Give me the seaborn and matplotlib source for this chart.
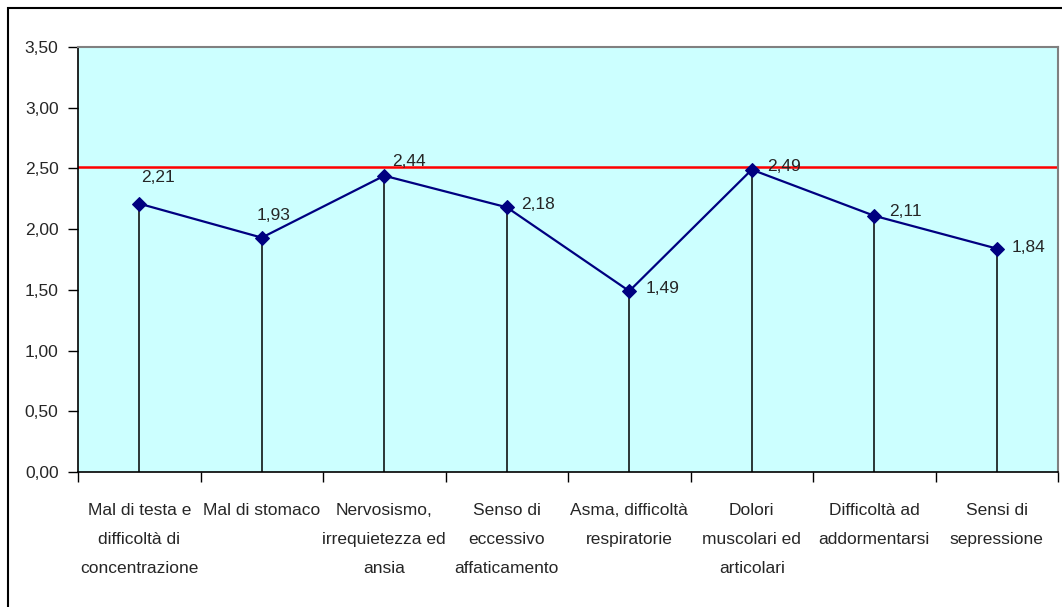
import numpy as np
import pandas as pd
import matplotlib
matplotlib.use("Agg")
import matplotlib.pyplot as plt
import seaborn as sns
from matplotlib.patches import Rectangle

# dati
categorie = [
    "Mal di testa e\ndifficoltà di\nconcentrazione",
    "Mal di stomaco",
    "Nervosismo,\nirrequietezza ed\nansia",
    "Senso di\neccessivo\naffaticamento",
    "Asma, difficoltà\nrespiratorie",
    "Dolori\nmuscolari ed\narticolari",
    "Difficoltà ad\naddormentarsi",
    "Sensi di\nsepressione",
]
valori = [2.21, 1.93, 2.44, 2.18, 1.49, 2.49, 2.11, 1.84]
soglia = 2.51
y_ticks = [0.0, 0.5, 1.0, 1.5, 2.0, 2.5, 3.0, 3.5]

# posizione delle etichette (pixel rispetto al punto)
offset_etichette = [(19, 26), (12, 22), (25, 14), (31, 3), (33, 3), (32, 3), (31, 4), (32, 1)]

sns.set_theme(style="white")
plt.rcParams['font.family'] = ['Liberation Sans', 'DejaVu Sans']

df = pd.DataFrame({"categoria": categorie, "valore": valori})

fig = plt.figure(figsize=(10.62, 6.07), dpi=100)
ax = fig.add_axes([78 / 1062, 1 - 472 / 607, 980 / 1062, 425 / 607])
ax.set_facecolor("#CCFFFF")

# linee verticali fino all'asse
ax.vlines(np.arange(len(valori)), 0, valori, color="black", linewidth=1.1, zorder=2)

sns.lineplot(data=df, x="categoria", y="valore", sort=False, ax=ax,
             color="#000080", linewidth=1.6, marker="D", markersize=7,
             markeredgecolor="#000080", zorder=3)

ax.axhline(soglia, color="red", linewidth=1.8, zorder=2.5)

for i, v in enumerate(valori):
    ax.annotate(f"{v:.2f}".replace(".", ","), (i, v), xytext=offset_etichette[i],
                textcoords="offset pixels", ha="center", va="center", fontsize=12.5)

ax.set_xlim(-0.5, len(valori) - 0.5)
ax.set_ylim(0, 3.5)
ax.set_yticks(y_ticks)
ax.set_yticklabels([f"{t:.2f}".replace(".", ",") for t in y_ticks], fontsize=12.5)
ax.set_xticks(np.arange(len(categorie)))
ax.set_xticklabels(categorie, fontsize=12.5, linespacing=2.2, va="top")
ax.set_xticks(np.arange(len(categorie) + 1) - 0.5, minor=True)
ax.tick_params(axis="x", which="major", length=0, pad=22)
ax.tick_params(axis="x", which="minor", length=7, width=1, color="black", direction="out", bottom=True)
ax.tick_params(axis="y", length=7, width=1, color="black", direction="out", left=True, pad=7)
ax.set_xlabel("")
ax.set_ylabel("")

for s in ["left", "bottom"]:
    ax.spines[s].set_color("black")
    ax.spines[s].set_linewidth(1.2)
for s in ["top", "right"]:
    ax.spines[s].set_color("#808080")
    ax.spines[s].set_linewidth(1.5)

# cornice esterna
fig.add_artist(Rectangle((8 / 1062, -0.05), 1.2, (607 - 8) / 607 + 0.05,
                         transform=fig.transFigure, fill=False, ec="black", lw=1.5))

fig.savefig("out.png", dpi=100)
